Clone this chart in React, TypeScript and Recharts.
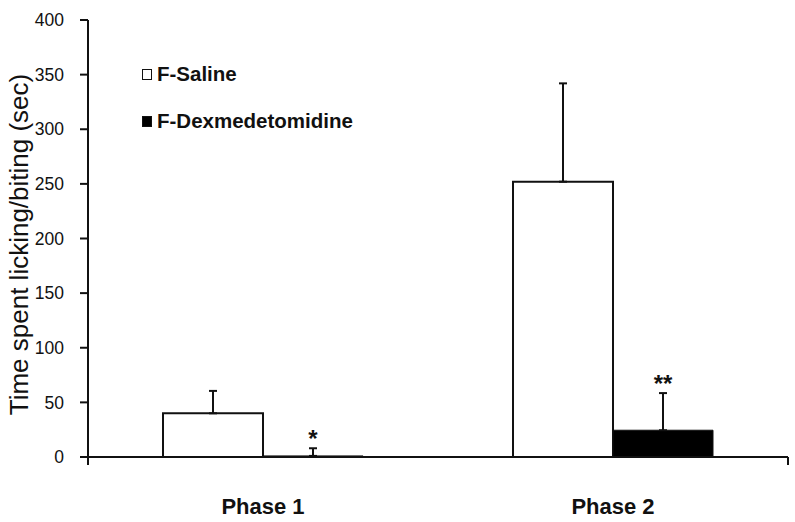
import { BarChart, Bar, XAxis, YAxis, ErrorBar, LabelList } from "recharts";

const phases = ["Phase 1", "Phase 2"];
const salineMean = [40, 252];
const salineErr = [20.5, 90];
const dexMean = [1, 24.5];
const dexErr = [7, 34];
const significance = ["*", "**"];
const yTicks = [0, 50, 100, 150, 200, 250, 300, 350, 400];
const edgeTicks = [0, 1, 2];
const legendItems = [
    { name: "F-Saline", fill: "#fff" },
    { name: "F-Dexmedetomidine", fill: "#000" },
];

const data = phases.map((phase, i) => ({
    phase,
    saline: salineMean[i],
    salineErr: [0, salineErr[i]],
    dex: dexMean[i],
    dexErr: [0, dexErr[i]],
    sig: significance[i],
}));

const FONT = "'Liberation Sans', Arial, sans-serif";
const INK = "#111";

// stars drawn just above the top of the dex error bars
const StarLabel = (props: any) => {
    const { x, y, width, height, index } = props;
    const unit = height / dexMean[index];
    const top = y - dexErr[index] * unit;
    return (
        <text
            x={x + width / 2}
            y={top - 1}
            textAnchor="middle"
            fontSize={24}
            fontWeight="bold"
            fontFamily={FONT}
            fill={INK}
        >
            {significance[index]}
        </text>
    );
};

const YTitle = (props: any) => {
    const vb = props.viewBox;
    const cx = vb.x + 28;
    const cy = vb.y + vb.height / 2 + 6;
    return (
        <text
            x={cx}
            y={cy}
            transform={`rotate(-90, ${cx}, ${cy})`}
            textAnchor="middle"
            fontSize={26}
            fontFamily={FONT}
            fill={INK}
        >
            Time spent licking/biting (sec)
        </text>
    );
};

const LegendBox = () => (
    <div
        style={{
            position: "absolute",
            left: 142,
            top: 62,
            fontFamily: FONT,
            fontWeight: "bold",
            fontSize: 20.5,
            color: INK,
        }}
    >
        {legendItems.map((item, i) => (
            <div key={item.name} style={{ display: "flex", alignItems: "center", height: 24, marginBottom: i === 0 ? 23 : 0 }}>
                <span
                    style={{
                        display: "inline-block",
                        width: 8,
                        height: 9,
                        background: item.fill,
                        border: `1.5px solid ${INK}`,
                        marginRight: 5,
                    }}
                />
                <span>{item.name}</span>
            </div>
        ))}
    </div>
);

export default function App() {
    return (
        <div style={{ position: "absolute", left: 0, top: 0, width: 795, height: 522, background: "#fff" }}>
            <BarChart
                width={795}
                height={522}
                data={data}
                margin={{ top: 20, right: 7, bottom: 0, left: 0 }}
                barCategoryGap="21.43%"
                barGap={0}
            >
                <XAxis
                    xAxisId="a"
                    type="number"
                    domain={[0, 2]}
                    ticks={edgeTicks}
                    allowDataOverflow
                    height={10}
                    tickSize={8}
                    tickFormatter={() => ""}
                    stroke={INK}
                    strokeWidth={2}
                />
                <XAxis
                    xAxisId="b"
                    dataKey="phase"
                    height={55}
                    axisLine={false}
                    tickLine={false}
                    tickMargin={25}
                    tick={{ fontSize: 22, fontWeight: "bold", fill: INK, fontFamily: FONT }}
                />
                <YAxis
                    domain={[0, 400]}
                    ticks={yTicks}
                    width={88}
                    tickSize={8}
                    tickMargin={16}
                    stroke={INK}
                    strokeWidth={2}
                    tick={{ fontSize: 17.5, fill: INK, fontFamily: FONT }}
                    label={{ content: YTitle }}
                />
                <Bar
                    xAxisId="b"
                    dataKey="saline"
                    name="F-Saline"
                    fill="#fff"
                    stroke={INK}
                    strokeWidth={2}
                    isAnimationActive={false}
                >
                    <ErrorBar dataKey="salineErr" direction="y" width={4} stroke={INK} strokeWidth={2} />
                </Bar>
                <Bar
                    xAxisId="b"
                    dataKey="dex"
                    name="F-Dexmedetomidine"
                    fill="#000"
                    stroke={INK}
                    strokeWidth={1}
                    isAnimationActive={false}
                >
                    <ErrorBar dataKey="dexErr" direction="y" width={4} stroke={INK} strokeWidth={2} />
                    <LabelList dataKey="sig" content={StarLabel} />
                </Bar>
            </BarChart>
            <LegendBox />
        </div>
    );
}
